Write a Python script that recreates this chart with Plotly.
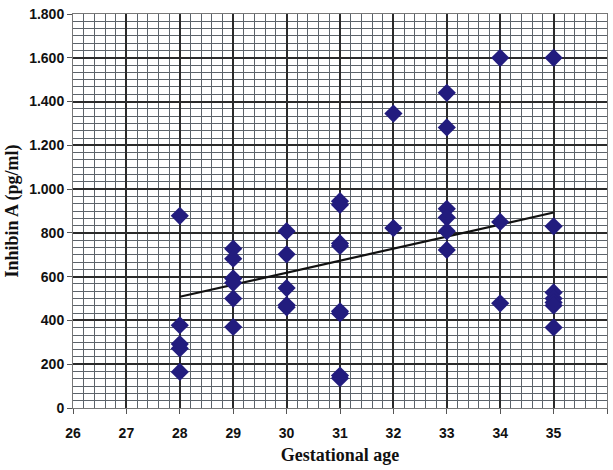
import plotly.graph_objects as go

# Data
gest_age = [28, 28, 28, 28, 28,
            29, 29, 29, 29, 29, 29,
            30, 30, 30, 30, 30,
            31, 31, 31, 31, 31, 31, 31, 31,
            32, 32,
            33, 33, 33, 33, 33, 33,
            34, 34, 34,
            35, 35, 35, 35, 35, 35, 35]
inhibin_a = [878, 378, 292, 272, 165,
             728, 682, 592, 572, 500, 370,
             808, 702, 548, 470, 460,
             945, 928, 752, 740, 442, 432, 148, 136,
             1345, 822,
             1440, 1282, 910, 870, 808, 722,
             1600, 850, 478,
             1600, 830, 528, 500, 482, 468, 368]

trend_x = [28, 35]
trend_y = [508, 893]

y_tickvals = [0, 200, 400, 600, 800, 1000, 1200, 1400, 1600, 1800]
y_ticktext = ["0", "200", "400", "600", "800", "1.000", "1.200", "1.400", "1.600", "1.800"]
x_tickvals = [26, 27, 28, 29, 30, 31, 32, 33, 34, 35, 36]

fig = go.Figure()
fig.add_trace(go.Scatter(
    x=trend_x, y=trend_y, mode="lines",
    line=dict(color="#111111", width=2.2), showlegend=False))
fig.add_trace(go.Scatter(
    x=gest_age, y=inhibin_a, mode="markers",
    marker=dict(symbol="diamond", size=14, color="#221c7e",
                line=dict(width=0)),
    showlegend=False))

tick_font = dict(family="Liberation Sans Narrow, Liberation Sans, Arial", size=14,
                 color="#111111", weight="bold")
title_font = dict(family="Liberation Serif, Times New Roman, serif", size=18,
                  color="#111111", weight="bold")

fig.update_layout(
    width=613, height=470,
    margin=dict(l=73, r=6, t=14, b=62),
    paper_bgcolor="white", plot_bgcolor="white",
    xaxis=dict(
        range=[26, 36], tickvals=x_tickvals, ticks="outside", ticklen=5,
        tickcolor="#555", tickfont=tick_font, ticklabelstandoff=7,
        showgrid=True, gridcolor="#2a2a2a", gridwidth=1.6,
        minor=dict(dtick=0.2, showgrid=True, gridcolor="#5c636a", gridwidth=1),
        showline=True, linecolor="#777", linewidth=1, mirror=True,
        zeroline=False,
        title=dict(text="Gestational age", font=title_font, standoff=8),
    ),
    yaxis=dict(
        range=[0, 1800], tickvals=y_tickvals, ticktext=y_ticktext,
        ticks="outside", ticklen=5, tickcolor="#555", tickfont=tick_font,
        showgrid=True, gridcolor="#2a2a2a", gridwidth=1.6,
        minor=dict(dtick=200 / 6, showgrid=True, gridcolor="#5c636a", gridwidth=1),
        showline=True, linecolor="#777", linewidth=1, mirror=True,
        zeroline=False,
        title=dict(text="Inhibin A (pg/ml)", font=title_font, standoff=5),
    ),
)

fig.write_html("out.html")
